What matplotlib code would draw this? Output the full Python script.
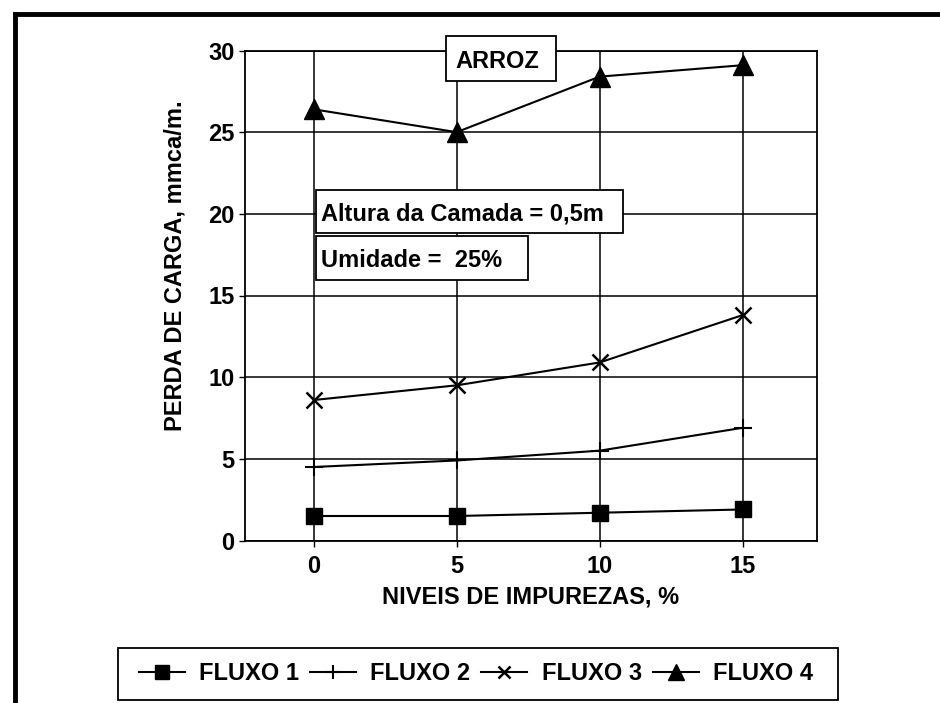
import matplotlib
matplotlib.use("Agg")
import matplotlib.pyplot as plt
from matplotlib.lines import Line2D
from matplotlib.patches import Rectangle

# ---- data ----
impurezas = [0, 5, 10, 15]
fluxo1 = [1.5, 1.5, 1.7, 1.9]
fluxo2 = [4.5, 4.9, 5.5, 6.9]
fluxo3 = [8.6, 9.5, 10.9, 13.8]
fluxo4 = [26.4, 25.0, 28.4, 29.1]
series_labels = ["FLUXO 1", "FLUXO 2", "FLUXO 3", "FLUXO 4"]
x_ticks = [0, 5, 10, 15]
y_ticks = [0, 5, 10, 15, 20, 25, 30]
xlabel = "NIVEIS DE IMPUREZAS, %"
ylabel = "PERDA DE CARGA, mmca/m."
title_box = "ARROZ"
note1 = "Altura da Camada = 0,5m"
note2 = "Umidade =  25%"

W, H = 940, 703
FONT = "Liberation Sans"
FS = 17.0
plt.rcParams['font.family'] = [FONT, 'DejaVu Sans']
plt.rcParams['font.weight'] = 'bold'

fig = plt.figure(figsize=(W / 100, H / 100), dpi=100)
fig.patch.set_facecolor('white')

def fx(px):
    return px / W

def fy(py):
    return 1 - py / H

# outer frame (left and top edges visible)
fig.add_artist(Line2D([fx(15), fx(15)], [0, fy(14)], transform=fig.transFigure,
                      color='black', lw=3.5, solid_capstyle='projecting'))
fig.add_artist(Line2D([fx(15), 1], [fy(14), fy(14)], transform=fig.transFigure,
                      color='black', lw=3.5, solid_capstyle='projecting'))

ax = fig.add_axes([fx(245), fy(540.5), (817 - 245) / W, (540.5 - 50.5) / H])
ax.set_xlim(-2.4, 17.6)
ax.set_ylim(0, 30)
ax.set_xticks(x_ticks)
ax.set_yticks(y_ticks)
ax.grid(True, color='black', lw=1.1)
ax.set_axisbelow(True)
for s in ax.spines.values():
    s.set_linewidth(1.3)
ax.tick_params(direction='out', length=4.5, width=1.0, labelsize=FS)
ax.tick_params(axis='x', pad=6)
ax.tick_params(axis='y', pad=3)
for lab in ax.get_xticklabels() + ax.get_yticklabels():
    lab.set_fontweight('bold')

styles = [
    dict(marker='s', ms=12, mew=1.0),
    dict(marker='+', ms=13, mew=1.5),
    dict(marker='x', ms=11, mew=1.8),
    dict(marker='^', ms=14, mew=1.0),
]
handles = []
for ys, lab, st in zip([fluxo1, fluxo2, fluxo3, fluxo4], series_labels, styles):
    h, = ax.plot(impurezas, ys, color='black', lw=1.5, label=lab, zorder=3,
                 mfc='black', mec='black', **st)
    handles.append(h)

ax.set_xlabel(xlabel, fontsize=FS, fontweight='bold', labelpad=5)
ax.set_ylabel(ylabel, fontsize=FS, fontweight='bold')
ax.yaxis.set_label_coords(-0.103, 0.56)

# boxed annotations (pixel geometry of the figure)
def frame_box(x0, y0, x1, y1, z=10):
    fig.add_artist(Rectangle((fx(x0), fy(y1)), fx(x1) - fx(x0), fy(y0) - fy(y1),
                             transform=fig.transFigure, facecolor='white',
                             edgecolor='black', lw=1.3, zorder=z))

def boxed(x0, y0, x1, y1, text, tx=None, ha='center'):
    frame_box(x0, y0, x1, y1)
    if tx is None:
        tx = (x0 + x1) / 2
    fig.text(fx(tx), fy((y0 + y1) / 2), text, ha=ha, va='center_baseline',
             fontsize=FS, fontweight='bold', zorder=11)

boxed(446, 36, 556, 81, title_box, tx=497)
boxed(316, 190, 623, 233, note1, tx=321, ha='left')
boxed(316, 236, 528, 280, note2, tx=321, ha='left')

# legend: frame drawn separately, entries anchored inside it
frame_box(118, 648, 838, 700, z=1)
leg = fig.legend(handles=handles, loc='center right', bbox_to_anchor=(fx(813), fy(674)),
                 ncol=4, frameon=False, markerscale=0.8,
                 prop={'family': FONT, 'weight': 'bold', 'size': FS},
                 handlelength=1.95, handletextpad=0.6, columnspacing=0.47,
                 borderpad=0, borderaxespad=0)
leg.set_zorder(5)

fig.savefig("out.png", dpi=100, facecolor='white')
